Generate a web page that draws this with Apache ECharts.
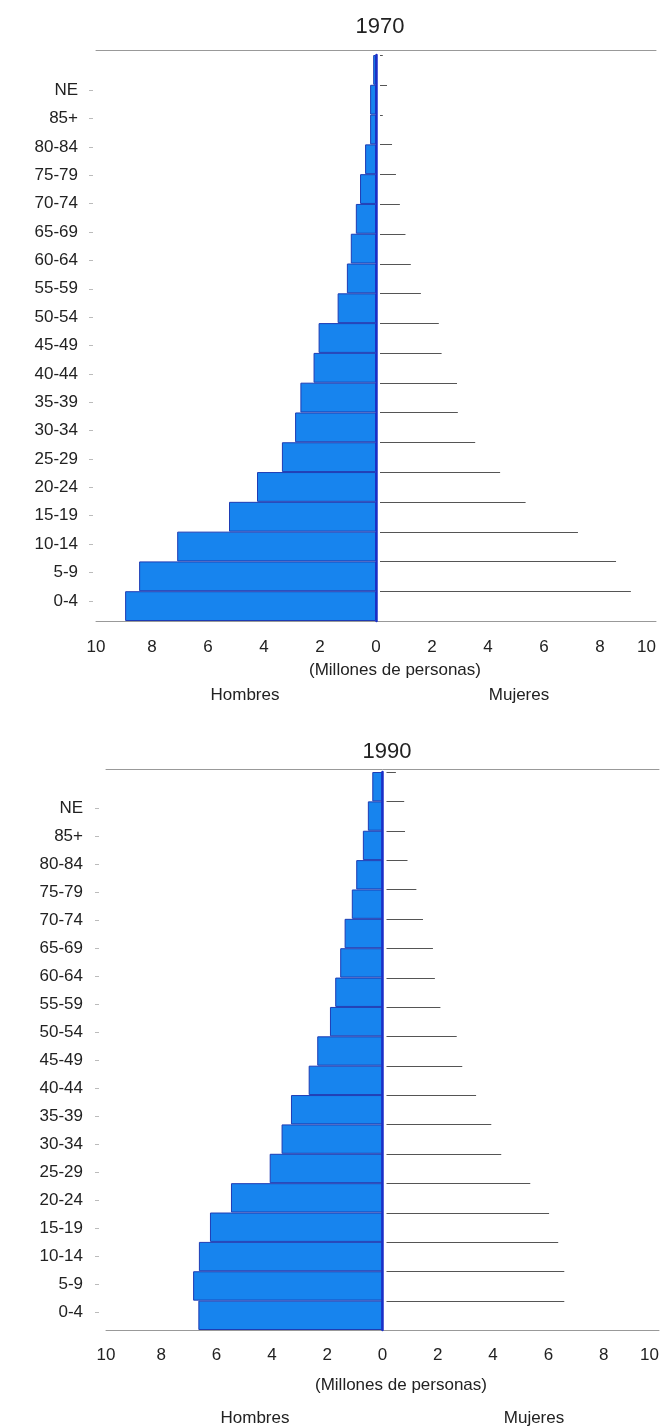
<!DOCTYPE html>
<html><head><meta charset="utf-8">
<script src="https://cdn.jsdelivr.net/npm/echarts@6/dist/echarts.min.js"></script>
<style>html,body{margin:0;padding:0;background:#fff}#c{width:662px;height:1428px}</style>
</head><body><div id="c"></div>
<script>
// Age groups, bottom to top
const ageGroups = ['0-4','5-9','10-14','15-19','20-24','25-29','30-34','35-39','40-44','45-49','50-54','55-59','60-64','65-69','70-74','75-79','80-84','85+','NE'];
// Millones de personas
const hombres1970 = [8.96,8.46,7.1,5.25,4.25,3.36,2.89,2.7,2.23,2.05,1.37,1.04,0.9,0.72,0.57,0.39,0.21,0.21,0.1];
const mujeres1970 = [8.96,8.43,7.07,5.2,4.29,3.4,2.78,2.75,2.2,2.1,1.46,1.1,0.91,0.71,0.57,0.43,0.1,0.25,0.1];
const hombres1990 = [6.66,6.85,6.64,6.24,5.48,4.08,3.65,3.31,2.67,2.36,1.9,1.71,1.53,1.37,1.11,0.95,0.71,0.53,0.37];
const mujeres1990 = [6.43,6.43,6.21,5.88,5.2,4.15,3.79,3.24,2.74,2.54,1.95,1.75,1.68,1.32,1.08,0.76,0.67,0.64,0.34];
const xMin = -10, xMax = 10, xStep = 2;
const titles = ['1970','1990'];
const unitLabel = '(Millones de personas)';
const sexLabels = ['Hombres','Mujeres'];

const FONT = "'Liberation Sans', Arial, sans-serif";
const TXT = '#222';
const chart = echarts.init(document.getElementById('c'));

function femaleLine(gap){
  return function(params, api){
    const idx = api.value(1);
    const c0 = api.coord([0, idx]);
    const c1 = api.coord([api.value(0), idx]);
    const h = api.size([0,1])[1];
    const y = Math.round(c0[1] - h/2) + 0.5;
    return {type:'line', shape:{x1:c0[0]+gap, y1:y, x2:c1[0]+gap, y2:y},
            style:{stroke:'#555', lineWidth:1}};
  };
}
function valueAxisBottom(gridIndex, margin){
  return {type:'value', gridIndex, min:xMin, max:xMax, interval:xStep, position:'bottom',
    axisLine:{show:true, onZero:false, lineStyle:{color:'#999', width:1}},
    axisTick:{show:false}, splitLine:{show:false},
    axisLabel:{margin, fontSize:17, color:TXT, fontFamily:FONT, alignMaxLabel:'right',
      formatter:v=>String(Math.abs(v))}};
}
function valueAxisTop(gridIndex, offset){
  return {type:'value', gridIndex, min:xMin, max:xMax, interval:xStep, position:'top', offset,
    axisLine:{show:true, onZero:false, lineStyle:{color:'#999', width:1}},
    axisTick:{show:false}, splitLine:{show:false}, axisLabel:{show:false}};
}
function hiddenX(gridIndex){ return {type:'value', gridIndex, min:0, max:1, show:false}; }
function barYAxis(gridIndex, xIdx){
  return {type:'category', gridIndex, data:ageGroups, z:10,
    axisLine:{show:true, onZero:true, onZeroAxisIndex:xIdx, lineStyle:{color:'#1a2fc8', width:2.5}},
    axisTick:{show:false}, axisLabel:{show:false}, splitLine:{show:false}};
}
function labelYAxis(gridIndex, margin){
  return {type:'category', gridIndex, data:ageGroups,
    axisLine:{show:false}, axisTick:{show:true, length:4, alignWithLabel:true, lineStyle:{color:'#bbb'}},
    axisLabel:{margin, fontSize:17, color:TXT, fontFamily:FONT}, splitLine:{show:false}};
}
function txt(text, x, y, size){
  return {type:'text', x, y, style:{text, fill:TXT, fontSize:size, fontFamily:FONT,
    textAlign:'center', textVerticalAlign:'middle', align:'center', verticalAlign:'middle'}};
}
const barStyle = {color:'#1784ee', borderColor:'#1d3cb4', borderWidth:1};

chart.setOption({
  animation:false,
  backgroundColor:'#fff',
  grid:[
    {left:96, top:55, width:560, height:566},
    {left:93, top:76, width:10, height:539},
    {left:106, top:772, width:554, height:558},
    {left:99, top:794, width:10, height:532}
  ],
  xAxis:[valueAxisBottom(0,18), valueAxisTop(0,5), hiddenX(1),
         valueAxisBottom(2,17), valueAxisTop(2,3), hiddenX(3)],
  yAxis:[barYAxis(0,0), labelYAxis(1,15), barYAxis(2,3), labelYAxis(3,16)],
  series:[
    {type:'bar', xAxisIndex:0, yAxisIndex:0, data:hombres1970.map(v=>-v), barCategoryGap:'0%', itemStyle:barStyle},
    {type:'custom', xAxisIndex:0, yAxisIndex:0, data:mujeres1970.map((v,i)=>[v,i]), encode:{x:0,y:1}, renderItem:femaleLine(4), z:3},
    {type:'bar', xAxisIndex:3, yAxisIndex:2, data:hombres1990.map(v=>-v), barCategoryGap:'0%', itemStyle:barStyle},
    {type:'custom', xAxisIndex:3, yAxisIndex:2, data:mujeres1990.map((v,i)=>[v,i]), encode:{x:0,y:1}, renderItem:femaleLine(4), z:3}
  ],
  graphic:[
    txt(titles[0], 380, 27, 22),
    txt(unitLabel, 395, 670, 17),
    txt(sexLabels[0], 245, 695, 17),
    txt(sexLabels[1], 519, 695, 17),
    txt(titles[1], 387, 752, 22),
    txt(unitLabel, 401, 1385, 17),
    txt(sexLabels[0], 255, 1418, 17),
    txt(sexLabels[1], 534, 1418, 17)
  ]
});
</script></body></html>
